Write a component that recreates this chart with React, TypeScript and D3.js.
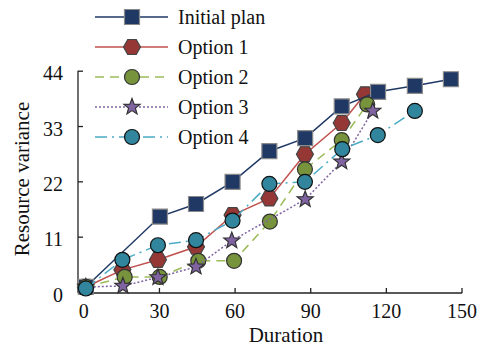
import React, { useEffect, useRef } from "react";
import * as d3 from "d3";

const xTicks = [0, 30, 60, 90, 120, 150];
const yTicks = [0, 11, 22, 33, 44];

const initialX = [1, 30.4, 44.7, 59.2, 73.8, 88, 102.5, 116.9, 131.5, 145.8];
const initialY = [1, 15, 17.5, 21.9, 28, 30.6, 36.9, 39.8, 41, 42.3];

const opt1X = [1, 15.5, 29.6, 44.7, 59.2, 73.8, 87.9, 102.5, 111.7];
const opt1Y = [1, 4.4, 6.4, 9.0, 15.3, 18.6, 27.4, 33.6, 39.3];

const opt2X = [1, 16.4, 30.3, 45.6, 59.8, 74, 87.9, 102.5, 112.6];
const opt2Y = [1, 3.0, 3.0, 6.2, 6.2, 14.0, 24.4, 30.2, 37.3];

const opt3X = [1, 15.7, 29.6, 44.7, 58.9, 88, 102.5, 114.8];
const opt3Y = [1, 1.2, 2.9, 5.0, 10.2, 18.4, 25.9, 36.0];

const opt4X = [1, 15.5, 29.6, 44.7, 59.2, 73.8, 87.9, 102.7, 116.8, 131.5];
const opt4Y = [0.7, 6.4, 9.3, 10.3, 14.2, 21.5, 21.9, 28.4, 31.2, 36.0];

const seriesNames = ["Initial plan", "Option 1", "Option 2", "Option 3", "Option 4"];

type Marker = "square" | "hexagon" | "circle" | "star";

interface Series {
  name: string;
  xs: number[];
  ys: number[];
  line: string;
  dash: string | null;
  marker: Marker;
  fill: string;
  stroke: string;
}

const series: Series[] = [
  { name: seriesNames[0], xs: initialX, ys: initialY, line: "#1F3864", dash: null, marker: "square", fill: "#1F3864", stroke: "#8a8a8a" },
  { name: seriesNames[1], xs: opt1X, ys: opt1Y, line: "#C0504D", dash: null, marker: "hexagon", fill: "#953735", stroke: "#444" },
  { name: seriesNames[2], xs: opt2X, ys: opt2Y, line: "#9BBB59", dash: "9,6", marker: "circle", fill: "#77933C", stroke: "#333" },
  { name: seriesNames[3], xs: opt3X, ys: opt3Y, line: "#8064A2", dash: "2,2", marker: "star", fill: "#8064A2", stroke: "#333" },
  { name: seriesNames[4], xs: opt4X, ys: opt4Y, line: "#4BACC6", dash: "12,5,2,5", marker: "circle", fill: "#31859C", stroke: "#111" },
];

// drawing order (later on top)
const drawOrder = [1, 0, 2, 3, 4];

function markerPath(m: Marker): string {
  if (m === "square") {
    const s = 7.5;
    return `M${-s},${-s}H${s}V${s}H${-s}Z`;
  }
  if (m === "hexagon") {
    const w = 8.5, h = 7.5;
    return `M${-w},0L${-w / 2},${-h}L${w / 2},${-h}L${w},0L${w / 2},${h}L${-w / 2},${h}Z`;
  }
  if (m === "circle") {
    const r = 7.5;
    return `M${r},0A${r},${r} 0 1,1 ${-r},0A${r},${r} 0 1,1 ${r},0Z`;
  }
  const pts: string[] = [];
  const ro = 8.5, ri = 3.6;
  for (let i = 0; i < 10; i++) {
    const a = -Math.PI / 2 + (i * Math.PI) / 5;
    const r = i % 2 === 0 ? ro : ri;
    pts.push(`${(r * Math.cos(a)).toFixed(2)},${(r * Math.sin(a)).toFixed(2)}`);
  }
  return "M" + pts.join("L") + "Z";
}

const FONT = "Liberation Serif, DejaVu Serif, serif";

export default function App() {
  const ref = useRef<SVGSVGElement>(null);

  useEffect(() => {
    const svg = d3.select(ref.current);
    svg.selectAll("*").remove();

    const x = d3.scaleLinear().domain([0, 150]).range([83.3, 461.5]);
    const y = d3.scaleLinear().domain([0, 44]).range([292, 70.7]);

    const axisLeftX = 78;
    const axisBottomY = 293;

    svg.append("line").attr("x1", axisLeftX).attr("x2", axisLeftX)
      .attr("y1", y(44)).attr("y2", axisBottomY).attr("stroke", "#222").attr("stroke-width", 1.3);
    svg.append("line").attr("x1", axisLeftX).attr("x2", x(150) + 0.6)
      .attr("y1", axisBottomY).attr("y2", axisBottomY).attr("stroke", "#222").attr("stroke-width", 1.3);

    const gx = svg.append("g").attr("transform", `translate(0,${axisBottomY})`)
      .call(d3.axisBottom(x).tickValues(xTicks).tickSize(-5).tickPadding(11).tickFormat(d3.format("d")));
    gx.select(".domain").remove();
    gx.attr("font-family", null).attr("font-size", null);
    gx.selectAll("line").attr("stroke", "#222").attr("stroke-width", 1.3);
    gx.selectAll("text").style("font-family", FONT).style("font-size", "20px").attr("fill", "#111");

    const gy = svg.append("g").attr("transform", `translate(${axisLeftX},0)`)
      .call(d3.axisLeft(y).tickValues(yTicks).tickSize(-5).tickPadding(15).tickFormat(d3.format("d")));
    gy.select(".domain").remove();
    gy.attr("font-family", null).attr("font-size", null);
    gy.selectAll("line").attr("stroke", "#222").attr("stroke-width", 1.3);
    gy.selectAll("text").style("font-family", FONT).style("font-size", "20px").attr("fill", "#111")
      .attr("dy", "0.45em");

    svg.append("text").attr("x", 286).attr("y", 342).attr("text-anchor", "middle")
      .style("font-family", FONT).style("font-size", "21px").attr("fill", "#111").text("Duration");
    svg.append("text").attr("transform", `translate(29,179) rotate(-90)`).attr("text-anchor", "middle")
      .style("font-family", FONT).style("font-size", "21px").attr("fill", "#111").text("Resource variance");

    const lineGen = d3.line<[number, number]>().x((d) => x(d[0])).y((d) => y(d[1]));

    drawOrder.forEach((i) => {
      const s = series[i];
      const pts: [number, number][] = s.xs.map((v, k) => [v, s.ys[k]]);
      const g = svg.append("g");
      g.append("path").attr("d", lineGen(pts) as string).attr("fill", "none")
        .attr("stroke", s.line).attr("stroke-width", 1.5)
        .attr("stroke-dasharray", s.dash ?? null);
      g.selectAll("path.m").data(pts).enter().append("path").attr("class", "m")
        .attr("d", markerPath(s.marker))
        .attr("transform", (d) => `translate(${x(d[0])},${y(d[1])})`)
        .attr("fill", s.fill).attr("stroke", s.stroke).attr("stroke-width", 1.2);
    });

    const legend = svg.append("g");
    series.forEach((s, i) => {
      const cy = 17 + i * 30;
      const row = legend.append("g").attr("transform", `translate(0,${cy})`);
      row.append("line").attr("x1", 95).attr("x2", 168).attr("y1", 0).attr("y2", 0)
        .attr("stroke", s.line).attr("stroke-width", 1.5).attr("stroke-dasharray", s.dash ?? null);
      row.append("path").attr("d", markerPath(s.marker)).attr("transform", "translate(132,0)")
        .attr("fill", s.fill).attr("stroke", s.stroke).attr("stroke-width", 1.2);
      row.append("text").attr("x", 178).attr("y", 0).attr("dy", "0.35em")
        .style("font-family", FONT).style("font-size", "20px").attr("fill", "#111").text(s.name);
    });
  }, []);

  return (
    <svg ref={ref} width={484} height={349}
      style={{ position: "absolute", left: 0, top: 0, background: "#fff" }} />
  );
}
